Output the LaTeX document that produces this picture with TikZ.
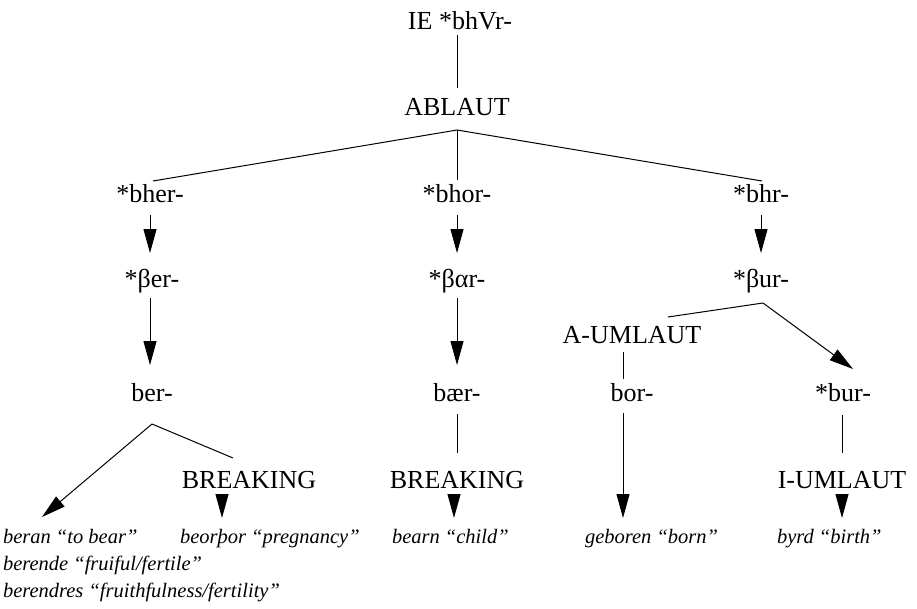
\documentclass[tikz,border=0pt]{standalone}
\usepackage{fontspec}
\setmainfont{Liberation Serif}
\usetikzlibrary{arrows.meta}
\tikzset{
 big/.style={inner sep=0pt, outer sep=0pt, anchor=base, text height=18pt, text depth=6pt, font=\fontsize{26pt}{30pt}\selectfont},
 ital/.style={inner sep=0pt, outer sep=0pt, anchor=base west, text height=14pt, text depth=5pt, font=\fontsize{20.5pt}{24pt}\selectfont\itshape},
 ln/.style={line width=1pt},
 arr/.style={line width=1pt, -{Triangle[length=24pt,width=13pt]}},
}
\begin{document}
\begin{tikzpicture}[x=1pt,y=-1pt]
\useasboundingbox (0,0) rectangle (917,608);
% nodes
\node[big] (ie) at (460,29) {IE *bhVr-};
\node[big] (abl) at (457,115) {ABLAUT};
\node[big] (bher) at (150,202) {*bher-};
\node[big] (bhor) at (457,202) {*bhor-};
\node[big] (bhr) at (761,202) {*bhr-};
\node[big] (bet) at (152,287) {*βer-};
\node[big] (bar) at (457,287) {*βαr-};
\node[big] (bur) at (761,287) {*βur-};
\node[big] (ber) at (152,401) {ber-};
\node[big] (baer) at (457,401) {bær-};
\node[big] (aum) at (632,343) {A-UMLAUT};
\node[big] (bor) at (632,401) {bor-};
\node[big] (sbur) at (843,401) {*bur-};
\node[big] (brk1) at (249,488) {BREAKING};
\node[big] (brk2) at (457,488) {BREAKING};
\node[big] (ium) at (842,488) {I-UMLAUT};
\node[ital] (beran) at (3,543) {beran “to bear”};
\node[ital] (berende) at (3,570) {berende “fruiful/fertile”};
\node[ital] (berendres) at (3,597) {berendres “fruithfulness/fertility”};
\node[ital] (beor) at (180,543) {beorþor “pregnancy”};
\node[ital] (bearn) at (392,543) {bearn “child”};
\node[ital] (geb) at (585,543) {geboren “born”};
\node[ital] (byrd) at (777,543) {byrd “birth”};
% junctions
\coordinate (apexA) at ([yshift=-9pt]abl.south);
\coordinate (apexB) at ([yshift=-17pt]ber.south);
\coordinate (apexC) at ([xshift=2pt,yshift=-10pt]bur.south);
% connectors
\draw[ln, shorten >=9pt] ([xshift=-3pt]ie.south) -- (abl.north);
\draw[ln] ([xshift=3pt,yshift=3pt]bher.north) -- (apexA) -- ([xshift=1pt,yshift=3pt]bhr.north);
\draw[ln] (apexA) -- ([yshift=4pt]bhor.north);
\draw[arr, shorten <=7pt, shorten >=16pt] (bher.south) -- (bher.south |- bet.north);
\draw[arr, shorten <=7pt, shorten >=16pt] (bhor.south) -- (bar.north);
\draw[arr, shorten <=7pt, shorten >=16pt] (bhr.south) -- (bur.north);
\draw[arr, shorten <=5pt, shorten >=18pt] (bet.south -| bher.south) -- (bher.south |- ber.north);
\draw[arr, shorten <=5pt, shorten >=18pt] (bar.south) -- (baer.north);
% ber- branch
\draw[arr] (apexB) -- ([xshift=39pt,yshift=12pt]beran.north west);
\draw[ln] (apexB) -- ([xshift=-16pt,yshift=12pt]brk1.north);
\draw[arr, shorten >=11pt] ([xshift=-27pt]brk1.south) -- ([xshift=-27pt]brk1.south |- beor.north);
% middle
\draw[ln, shorten <=7pt, shorten >=17pt] (baer.south) -- (brk2.north);
\draw[arr, shorten >=11pt] ([xshift=-3pt]brk2.south) -- ([xshift=-3pt]brk2.south |- bearn.north);
% right branch
\draw[ln] ([xshift=36pt,yshift=8pt]aum.north) -- (apexC);
\draw[arr] (apexC) -- ([xshift=10pt,yshift=14pt]sbur.north);
\draw[ln, shorten <=3pt, shorten >=4pt] ([xshift=-9pt]aum.south) -- ([xshift=-9pt]aum.south |- bor.north);
\draw[arr, shorten <=6pt, shorten >=11pt] ([xshift=-9pt]bor.south) -- ([xshift=-9pt]bor.south |- geb.north);
\draw[ln, shorten <=8pt, shorten >=17pt] ([xshift=-1pt]sbur.south) -- ([xshift=-1pt]sbur.south |- ium.north);
\draw[arr, shorten >=11pt] (ium.south) -- (ium.south |- byrd.north);
\end{tikzpicture}
\end{document}
